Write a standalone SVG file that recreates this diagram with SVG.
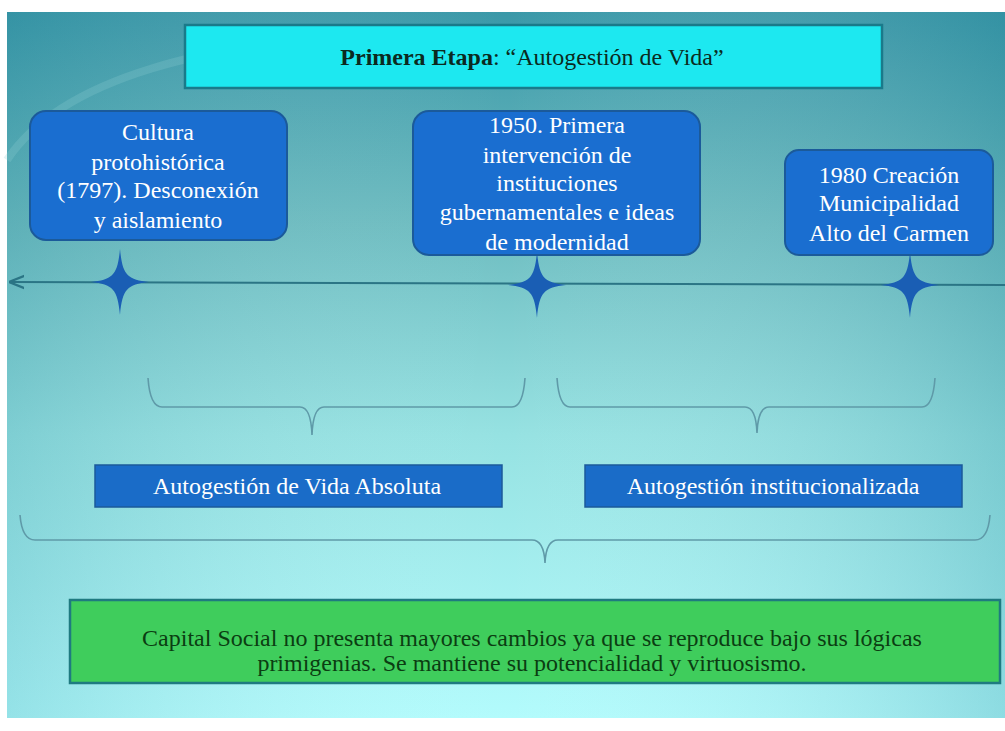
<svg xmlns="http://www.w3.org/2000/svg" width="1005" height="731" viewBox="0 0 1005 731">
<defs>
<linearGradient id="bg" x1="0" y1="0" x2="0" y2="1">
<stop offset="0" stop-color="#3a98a8"/>
<stop offset="0.3" stop-color="#6dbcc0"/>
<stop offset="0.6" stop-color="#96e2e2"/>
<stop offset="1" stop-color="#b2fbfc"/>
</linearGradient>
<linearGradient id="side" x1="0" y1="0" x2="1" y2="0">
<stop offset="0" stop-color="#1f7f95" stop-opacity="0.2"/>
<stop offset="0.5" stop-color="#ffffff" stop-opacity="0"/>
<stop offset="1" stop-color="#1f7f95" stop-opacity="0.25"/>
</linearGradient>
<marker id="arr" viewBox="0 0 10 10" refX="0" refY="5" markerWidth="7" markerHeight="7" orient="auto">
<path d="M10,1 L0,5 L10,9" fill="none" stroke="#2b7585" stroke-width="1.5"/>
</marker>
<path id="star" d="M0,-33 C2.5,-7 7,-2.5 29,0 C7,2.5 2.5,7 0,33 C-2.5,7 -7,2.5 -29,0 C-7,-2.5 -2.5,-7 0,-33 Z"/>
</defs>
<style>
.ev{fill:#1a6ed0;stroke:#1b5a9a;stroke-width:2}
.et{font-family:"Liberation Serif",serif;font-size:24px;fill:#ffffff;text-anchor:middle}
.ph{fill:#1a6cc8;stroke:#1b5a9a;stroke-width:1.5}
.pt{font-family:"Liberation Serif",serif;font-size:24px;fill:#ffffff;text-anchor:middle}
.br{fill:none;stroke:#5f9aa8;stroke-width:1.6}
.st{fill:#1a5eb4}
</style>
<rect x="0" y="0" width="1005" height="731" fill="#ffffff"/>
<rect x="7" y="12" width="998" height="706" fill="url(#bg)"/>
<rect x="7" y="12" width="998" height="706" fill="url(#side)"/>
<path d="M7,160 C60,80 200,40 420,30 C500,28 560,40 600,60" fill="none" stroke="#8fd0d4" stroke-width="8" opacity="0.25"/>

<g id="title">
<rect x="185" y="25" width="697" height="63" fill="#1de8f0" stroke="#1a7a8a" stroke-width="2.5"/>
<text x="532" y="65" font-family="Liberation Serif,serif" font-size="24" fill="#0b2a20" text-anchor="middle"><tspan font-weight="bold">Primera Etapa</tspan>: “Autogestión de Vida”</text>
</g>

<g id="connectors">
<line x1="9" y1="282" x2="1005" y2="285" stroke="#2b7585" stroke-width="2.2" marker-start="url(#arr)"/>
<path class="br" d="M148,378 Q150,407 162,407 L300,407 Q311,407 312,435 Q313,407 324,407 L512,407 Q523,407 525,378"/>
<path class="br" d="M557,378 Q559,407 570,407 L745,407 Q756,407 757,433 Q758,407 769,407 L922,407 Q933,407 935,378"/>
<path class="br" d="M20,515 Q22,540 35,540 L532,540 Q544,540 545,563 Q546,540 558,540 L975,540 Q988,540 990,515"/>
</g>

<g id="star1"><use href="#star" x="120" y="282" class="st"/></g>
<g id="star2"><use href="#star" x="537" y="285" class="st"/></g>
<g id="star3"><use href="#star" x="910" y="285" class="st"/></g>

<g id="ev1">
<rect class="ev" x="30" y="111" width="257" height="129" rx="16"/>
<text class="et"><tspan x="158" y="140">Cultura</tspan><tspan x="158" y="170">protohistórica</tspan><tspan x="158" y="198">(1797). Desconexión</tspan><tspan x="158" y="228">y aislamiento</tspan></text>
</g>
<g id="ev2">
<rect class="ev" x="413" y="111" width="287" height="144" rx="16"/>
<text class="et"><tspan x="557" y="133">1950. Primera</tspan><tspan x="557" y="163">intervención de</tspan><tspan x="557" y="191">instituciones</tspan><tspan x="557" y="220">gubernamentales e ideas</tspan><tspan x="557" y="250">de modernidad</tspan></text>
</g>
<g id="ev3">
<rect class="ev" x="785" y="150" width="208" height="105" rx="14"/>
<text class="et"><tspan x="889" y="183">1980 Creación</tspan><tspan x="889" y="211">Municipalidad</tspan><tspan x="889" y="241">Alto del Carmen</tspan></text>
</g>

<g id="phase1">
<rect class="ph" x="95" y="465" width="407" height="42"/>
<text class="pt" x="297" y="494">Autogestión de Vida Absoluta</text>
</g>
<g id="phase2">
<rect class="ph" x="585" y="465" width="377" height="42"/>
<text class="pt" x="773" y="494">Autogestión institucionalizada</text>
</g>

<g id="summary">
<rect x="70" y="600" width="930" height="83" fill="#3fcd5c" stroke="#1f7a80" stroke-width="2.5"/>
<text font-family="Liberation Serif,serif" font-size="24" fill="#0b3d12" text-anchor="middle"><tspan x="532" y="646">Capital Social no presenta mayores cambios ya que se reproduce bajo sus lógicas</tspan><tspan x="532" y="671">primigenias. Se mantiene su potencialidad y virtuosismo.</tspan></text>
</g>
</svg>
